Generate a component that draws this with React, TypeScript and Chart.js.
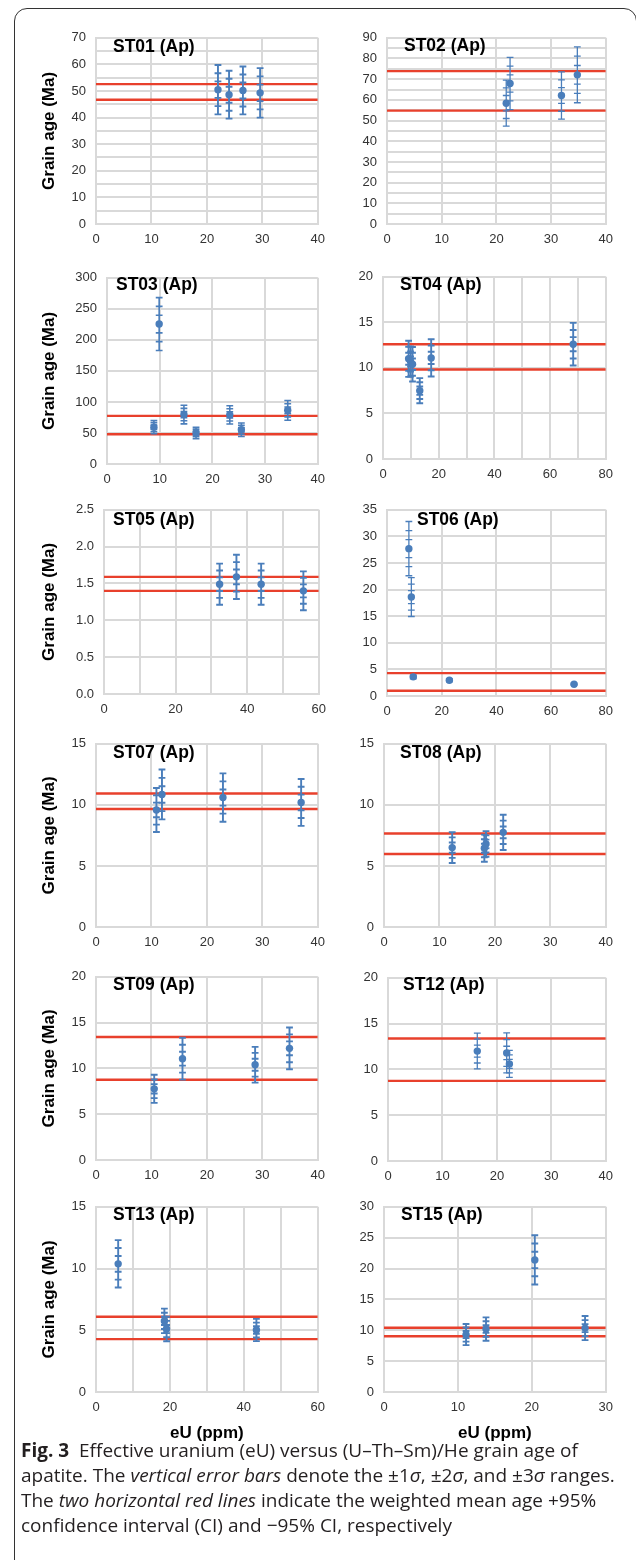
import React, { useEffect, useRef } from 'react';
import { Chart, registerables } from 'chart.js';

Chart.register(...registerables);

const FONT = "'Liberation Sans', Arial, Helvetica, sans-serif";
const BLUE = '#4a7ebb';
const RED = '#e8402c';
const GRID = '#d9d9d9';
const TICK = '#333333';
const CAP = 3.4;

// ---------------- data (eU ppm, grain age Ma, 1 sigma, CI lines) ----------------
const ST01_EU = [22.0, 24.0, 26.5, 29.6];
const ST01_AGE = [50.5, 48.6, 50.2, 49.3];
const ST01_SIGMA = [3.1, 3.0, 3.0, 3.1];
const ST01_CI = [52.6, 46.7];

const ST02_EU = [21.8, 22.5, 31.9, 34.8];
const ST02_AGE = [58.4, 67.9, 62.1, 72.1];
const ST02_SIGMA = [3.7, 4.2, 3.8, 4.5];
const ST02_CI = [73.9, 54.8];

const ST03_EU = [8.9, 9.9, 14.6, 16.9, 23.3, 25.5, 34.3];
const ST03_AGE = [59.4, 225.5, 79.7, 50.0, 79.2, 55.2, 86.5];
const ST03_SIGMA = [3.5, 14.2, 5.0, 3.1, 4.9, 3.6, 5.3];
const ST03_CI = [77.6, 47.9];

const ST04_EU = [9.2, 9.9, 10.6, 13.2, 17.3, 68.3];
const ST04_AGE = [11.0, 10.7, 10.4, 7.5, 11.1, 12.6];
const ST04_SIGMA = [0.66, 0.55, 0.63, 0.46, 0.68, 0.78];
const ST04_CI = [12.6, 9.82];

const ST05_EU = [32.3, 37.0, 43.9, 55.7];
const ST05_AGE = [1.49, 1.59, 1.49, 1.4];
const ST05_SIGMA = [0.093, 0.1, 0.093, 0.088];
const ST05_CI = [1.59, 1.4];

const ST06_EU = [8.0, 8.9, 9.6, 22.8, 68.4];
const ST06_AGE = [27.7, 18.6, 3.6, 2.95, 2.2];
const ST06_SIGMA = [1.7, 1.22, 0.12, 0.1, 0.05];
const ST06_CI = [4.3, 1.0];

const ST07_EU = [10.9, 11.9, 22.9, 37.0];
const ST07_AGE = [9.58, 10.85, 10.6, 10.2];
const ST07_SIGMA = [0.6, 0.68, 0.66, 0.64];
const ST07_CI = [10.93, 9.66];

const ST08_EU = [12.3, 18.1, 18.4, 21.5];
const ST08_AGE = [6.5, 6.45, 6.8, 7.75];
const ST08_SIGMA = [0.42, 0.37, 0.35, 0.48];
const ST08_CI = [7.65, 5.98];

const ST09_EU = [10.5, 15.6, 28.7, 34.9];
const ST09_AGE = [7.77, 11.06, 10.4, 12.19];
const ST09_SIGMA = [0.51, 0.76, 0.65, 0.76];
const ST09_CI = [13.43, 8.76];

const ST12_EU = [16.4, 21.8, 22.3];
const ST12_AGE = [12.0, 11.8, 10.6];
const ST12_SIGMA = [0.65, 0.73, 0.49];
const ST12_CI = [13.37, 8.75];

const ST13_EU = [6.0, 18.5, 19.1, 43.4];
const ST13_AGE = [10.38, 5.76, 5.1, 5.02];
const ST13_SIGMA = [0.64, 0.33, 0.33, 0.3];
const ST13_CI = [6.1, 4.28];

const ST15_EU = [11.1, 13.8, 20.4, 27.2];
const ST15_AGE = [9.3, 10.2, 21.4, 10.35];
const ST15_SIGMA = [0.57, 0.63, 1.33, 0.65];
const ST15_CI = [10.4, 9.03];

// ---------------- panel layout ----------------
interface Panel {
  name: string;
  eu: number[];
  age: number[];
  sigma: number[];
  ci: number[];
  xMax: number; xStep: number; xLabelStep: number;
  yMax: number; yStep: number; yLabelStep: number; yDec: number;
  col: 0 | 1;
  l: number; t: number; r: number; b: number;
  titleX: number; titleY: number;
  yTitle: boolean; xTitle: boolean;
  barWidth: number;
}

const PANELS: Panel[] = [
  { name: 'ST01 (Ap)', eu: ST01_EU, age: ST01_AGE, sigma: ST01_SIGMA, ci: ST01_CI,
    xMax: 40, xStep: 10, xLabelStep: 10, yMax: 70, yStep: 5, yLabelStep: 10, yDec: 0,
    col: 0, l: 96, t: 32, r: 319, b: 224, titleX: 113, titleY: 47, yTitle: true, xTitle: false, barWidth: 1.9 },
  { name: 'ST02 (Ap)', eu: ST02_EU, age: ST02_AGE, sigma: ST02_SIGMA, ci: ST02_CI,
    xMax: 40, xStep: 10, xLabelStep: 10, yMax: 90, yStep: 5, yLabelStep: 10, yDec: 0,
    col: 1, l: 387, t: 32, r: 607, b: 224, titleX: 404, titleY: 46, yTitle: false, xTitle: false, barWidth: 1.3 },
  { name: 'ST03 (Ap)', eu: ST03_EU, age: ST03_AGE, sigma: ST03_SIGMA, ci: ST03_CI,
    xMax: 40, xStep: 10, xLabelStep: 10, yMax: 300, yStep: 50, yLabelStep: 50, yDec: 0,
    col: 0, l: 107, t: 272, r: 319, b: 464, titleX: 116, titleY: 285, yTitle: true, xTitle: false, barWidth: 1.6 },
  { name: 'ST04 (Ap)', eu: ST04_EU, age: ST04_AGE, sigma: ST04_SIGMA, ci: ST04_CI,
    xMax: 80, xStep: 10, xLabelStep: 20, yMax: 20, yStep: 5, yLabelStep: 5, yDec: 0,
    col: 1, l: 383, t: 271, r: 607, b: 459, titleX: 400, titleY: 285, yTitle: false, xTitle: false, barWidth: 1.9 },
  { name: 'ST05 (Ap)', eu: ST05_EU, age: ST05_AGE, sigma: ST05_SIGMA, ci: ST05_CI,
    xMax: 60, xStep: 10, xLabelStep: 20, yMax: 2.5, yStep: 0.5, yLabelStep: 0.5, yDec: 1,
    col: 0, l: 104, t: 504, r: 320, b: 694, titleX: 113, titleY: 520, yTitle: true, xTitle: false, barWidth: 1.9 },
  { name: 'ST06 (Ap)', eu: ST06_EU, age: ST06_AGE, sigma: ST06_SIGMA, ci: ST06_CI,
    xMax: 80, xStep: 20, xLabelStep: 20, yMax: 35, yStep: 5, yLabelStep: 5, yDec: 0,
    col: 1, l: 387, t: 504, r: 607, b: 696, titleX: 417, titleY: 520, yTitle: false, xTitle: false, barWidth: 1.3 },
  { name: 'ST07 (Ap)', eu: ST07_EU, age: ST07_AGE, sigma: ST07_SIGMA, ci: ST07_CI,
    xMax: 40, xStep: 10, xLabelStep: 10, yMax: 15, yStep: 5, yLabelStep: 5, yDec: 0,
    col: 0, l: 96, t: 738, r: 319, b: 927, titleX: 113, titleY: 753, yTitle: true, xTitle: false, barWidth: 1.9 },
  { name: 'ST08 (Ap)', eu: ST08_EU, age: ST08_AGE, sigma: ST08_SIGMA, ci: ST08_CI,
    xMax: 40, xStep: 10, xLabelStep: 10, yMax: 15, yStep: 5, yLabelStep: 5, yDec: 0,
    col: 1, l: 384, t: 738, r: 607, b: 927, titleX: 400, titleY: 753, yTitle: false, xTitle: false, barWidth: 1.9 },
  { name: 'ST09 (Ap)', eu: ST09_EU, age: ST09_AGE, sigma: ST09_SIGMA, ci: ST09_CI,
    xMax: 40, xStep: 10, xLabelStep: 10, yMax: 20, yStep: 5, yLabelStep: 5, yDec: 0,
    col: 0, l: 96, t: 971, r: 319, b: 1160, titleX: 113, titleY: 985, yTitle: true, xTitle: false, barWidth: 1.9 },
  { name: 'ST12 (Ap)', eu: ST12_EU, age: ST12_AGE, sigma: ST12_SIGMA, ci: ST12_CI,
    xMax: 40, xStep: 10, xLabelStep: 10, yMax: 20, yStep: 5, yLabelStep: 5, yDec: 0,
    col: 1, l: 388, t: 972, r: 607, b: 1161, titleX: 403, titleY: 985, yTitle: false, xTitle: false, barWidth: 1.3 },
  { name: 'ST13 (Ap)', eu: ST13_EU, age: ST13_AGE, sigma: ST13_SIGMA, ci: ST13_CI,
    xMax: 60, xStep: 10, xLabelStep: 20, yMax: 15, yStep: 5, yLabelStep: 5, yDec: 0,
    col: 0, l: 96, t: 1201, r: 319, b: 1392, titleX: 113, titleY: 1215, yTitle: true, xTitle: true, barWidth: 1.9 },
  { name: 'ST15 (Ap)', eu: ST15_EU, age: ST15_AGE, sigma: ST15_SIGMA, ci: ST15_CI,
    xMax: 30, xStep: 10, xLabelStep: 10, yMax: 30, yStep: 5, yLabelStep: 5, yDec: 0,
    col: 1, l: 384, t: 1201, r: 607, b: 1392, titleX: 401, titleY: 1215, yTitle: false, xTitle: true, barWidth: 1.9 },
];

function isMultiple(v: number, step: number) {
  const q = v / step;
  return Math.abs(q - Math.round(q)) < 1e-6;
}

function PanelChart({ p }: { p: Panel }) {
  const ref = useRef<HTMLCanvasElement>(null);
  const cLeft = p.col === 0 ? 26 : 330;
  const padT = 12;
  const padR = 14;
  const xh = p.xTitle ? 58 : 30;
  const yw = p.l - cLeft;
  const w = p.r + padR - cLeft;
  const h = p.b - p.t + padT + xh;
  const cTop = p.t - padT;

  useEffect(() => {
    const canvas = ref.current;
    if (!canvas) return;
    const points = p.eu.map((x, i) => ({ x, y: p.age[i] }));
    const ciSets = p.ci.map((v) => ({
      data: [{ x: 0, y: v }, { x: p.xMax, y: v }],
      showLine: true,
      borderColor: RED,
      backgroundColor: RED,
      borderWidth: 2.4,
      pointRadius: 0,
      pointHoverRadius: 0,
    }));

    const errorBars = {
      id: 'errorBars',
      beforeDatasetDraw(chart: any, args: any) {
        if (args.index !== 0) return;
        const { ctx, chartArea, scales } = chart;
        const xs = scales.x;
        const ys = scales.y;
        ctx.save();
        ctx.beginPath();
        ctx.rect(chartArea.left, chartArea.top - 3, chartArea.right - chartArea.left, chartArea.bottom - chartArea.top + 6);
        ctx.clip();
        ctx.strokeStyle = BLUE;
        ctx.lineWidth = p.barWidth;
        p.eu.forEach((x, i) => {
          const px = xs.getPixelForValue(x);
          const y0 = p.age[i];
          const s = p.sigma[i];
          ctx.beginPath();
          ctx.moveTo(px, ys.getPixelForValue(y0 - 3 * s));
          ctx.lineTo(px, ys.getPixelForValue(y0 + 3 * s));
          for (let k = 1; k <= 3; k++) {
            for (const sign of [-1, 1]) {
              const py = ys.getPixelForValue(y0 + sign * k * s);
              ctx.moveTo(px - CAP, py);
              ctx.lineTo(px + CAP, py);
            }
          }
          ctx.stroke();
        });
        ctx.restore();
      },
    };

    const titlePlugin = {
      id: 'panelTitle',
      afterDraw(chart: any) {
        const ctx = chart.ctx;
        ctx.save();
        ctx.font = `bold 17.5px ${FONT}`;
        ctx.fillStyle = '#000';
        ctx.textBaseline = 'middle';
        ctx.textAlign = 'left';
        ctx.fillText(p.name, p.titleX - cLeft, p.titleY - cTop);
        ctx.restore();
      },
    };

    const tickFont = { family: FONT, size: 13 };
    const chart = new Chart(canvas, {
      type: 'scatter',
      data: {
        datasets: [
          {
            data: points,
            backgroundColor: BLUE,
            borderColor: BLUE,
            pointRadius: 3.7,
            pointHoverRadius: 3.7,
            borderWidth: 0,
          },
          ...ciSets,
        ] as any,
      },
      options: {
        animation: false,
        responsive: false,
        maintainAspectRatio: false,
        events: [],
        layout: { padding: { top: padT, right: padR, left: 0, bottom: 0 } },
        plugins: { legend: { display: false }, tooltip: { enabled: false }, title: { display: false } },
        scales: {
          x: {
            type: 'linear',
            position: 'bottom',
            min: 0,
            max: p.xMax,
            afterFit: (s: any) => { s.height = xh; },
            grid: { color: GRID, lineWidth: 2, drawTicks: false },
            border: { color: GRID, width: 2 },
            ticks: {
              stepSize: p.xStep,
              autoSkip: false,
              maxRotation: 0,
              padding: 8,
              color: TICK,
              font: tickFont,
              callback: (v: any) => (isMultiple(Number(v), p.xLabelStep) ? String(v) : ''),
            },
            title: {
              display: p.xTitle,
              text: 'eU (ppm)',
              color: '#000',
              font: { family: FONT, size: 17, weight: 'bold' },
              padding: { top: 0, bottom: 6 },
            },
          },
          y: {
            type: 'linear',
            position: 'left',
            min: 0,
            max: p.yMax,
            afterFit: (s: any) => { s.width = yw; },
            grid: { color: GRID, lineWidth: 2, drawTicks: false },
            border: { color: GRID, width: 2 },
            ticks: {
              stepSize: p.yStep,
              autoSkip: false,
              padding: 10,
              color: TICK,
              font: tickFont,
              callback: (v: any) => (isMultiple(Number(v), p.yLabelStep) ? Number(v).toFixed(p.yDec) : ''),
            },
            title: {
              display: p.yTitle,
              text: 'Grain age (Ma)',
              color: '#000',
              font: { family: FONT, size: 17, weight: 'bold' },
              padding: { top: Math.max(0, 49.5 - cLeft - 10.2), bottom: 0 },
            },
          },
        },
      } as any,
      plugins: [errorBars, titlePlugin],
    });
    return () => chart.destroy();
  }, []);

  return (
    <canvas
      ref={ref}
      width={w}
      height={h}
      style={{ position: 'absolute', left: cLeft, top: cTop, width: w, height: h }}
    />
  );
}

export default function App() {
  return (
    <div
      style={{
        position: 'absolute',
        left: 0,
        top: 0,
        width: 636,
        height: 1560,
        overflow: 'hidden',
        background: '#fff',
      }}
    >
      <div
        style={{
          position: 'absolute',
          left: 14,
          top: 8,
          width: 623,
          height: 1600,
          boxSizing: 'border-box',
          border: '1.5px solid #333',
          borderRadius: '13px 13px 0 0',
        }}
      />
      {PANELS.map((p) => (
        <PanelChart key={p.name} p={p} />
      ))}
      <div
        style={{
          position: 'absolute',
          left: 21,
          top: 1438,
          fontFamily: "'Open Sans', 'Noto Sans', sans-serif",
          fontSize: 19,
          lineHeight: '25px',
          color: '#231f20',
          whiteSpace: 'nowrap',
          letterSpacing: '0px',
        }}
      >
        <div>
          <b>Fig. 3</b>&nbsp; Effective uranium (eU) versus (U–Th–Sm)/He grain age of
        </div>
        <div>
          apatite. The <i>vertical error bars</i> denote the ±1<i>σ</i>, ±2<i>σ</i>, and ±3<i>σ</i> ranges.
        </div>
        <div>
          The <i>two horizontal red lines</i> indicate the weighted mean age +95%
        </div>
        <div>confidence interval (CI) and −95% CI, respectively</div>
      </div>
    </div>
  );
}
